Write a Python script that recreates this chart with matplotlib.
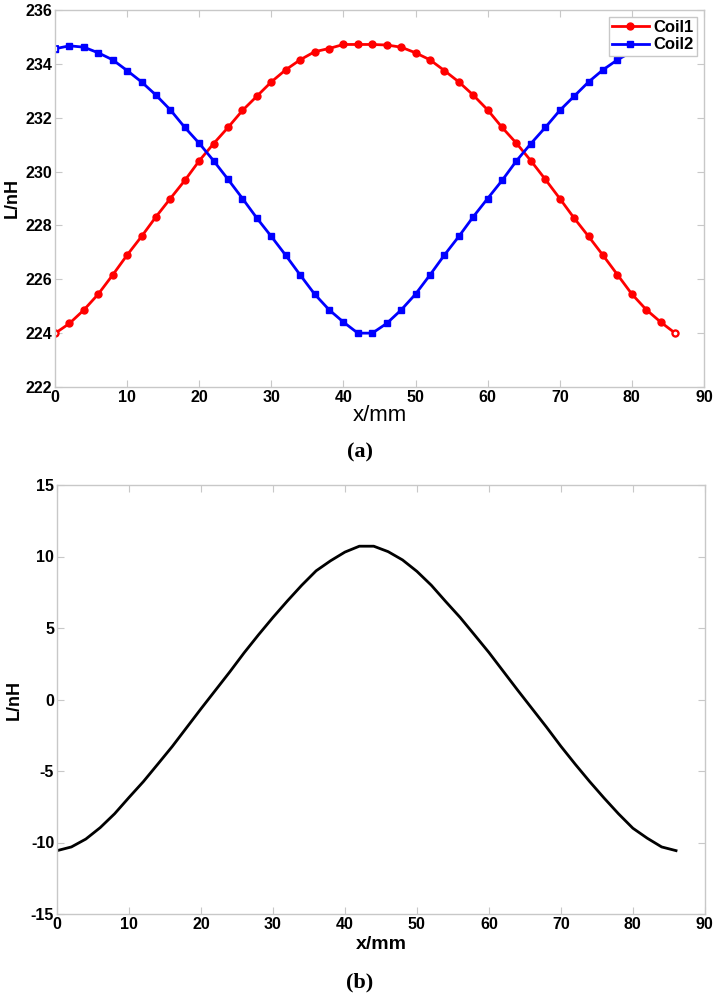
import numpy as np
import matplotlib
matplotlib.use("Agg")
import matplotlib.pyplot as plt

plt.rcParams['axes.unicode_minus'] = False
plt.rcParams['font.family'] = ['Liberation Sans', 'DejaVu Sans']
plt.rcParams['font.weight'] = 'bold'

# ── Data ──────────────────────────────────────────────────────
x_mm = np.arange(0, 88, 2)

coil1 = [223.99, 224.36, 224.86, 225.45, 226.16, 226.90, 227.59, 228.32, 229.00, 229.67,
         230.40, 231.04, 231.64, 232.27, 232.80, 233.33, 233.78, 234.15, 234.45, 234.57,
         234.72, 234.72, 234.72, 234.70, 234.62, 234.41, 234.15, 233.75, 233.33, 232.84,
         232.29, 231.64, 231.05, 230.40, 229.71, 229.00, 228.27, 227.59, 226.89, 226.17,
         225.45, 224.87, 224.41, 224.00]

coil2 = [234.56, 234.67, 234.62, 234.41, 234.15, 233.75, 233.33, 232.84, 232.29, 231.64,
         231.05, 230.40, 229.71, 229.00, 228.27, 227.59, 226.89, 226.16, 225.45, 224.87,
         224.41, 224.00, 224.00, 224.36, 224.86, 225.45, 226.16, 226.90, 227.59, 228.32,
         229.00, 229.67, 230.40, 231.04, 231.64, 232.27, 232.80, 233.33, 233.78, 234.15,
         234.45, 234.57, 234.70, 234.57]

diff = [-10.57, -10.31, -9.76, -8.96, -7.99, -6.85, -5.74, -4.52, -3.29, -1.97,
        -0.65, 0.64, 1.93, 3.27, 4.53, 5.74, 6.89, 7.99, 9.00, 9.70,
        10.31, 10.72, 10.72, 10.34, 9.76, 8.96, 7.99, 6.85, 5.74, 4.52,
        3.29, 1.97, 0.65, -0.64, -1.93, -3.27, -4.53, -5.74, -6.89, -7.99,
        -9.00, -9.70, -10.31, -10.57]

SERIF = ['Liberation Serif', 'DejaVu Serif']
BOX = '#c8c8c8'


def style_axes(ax):
    for s in ax.spines.values():
        s.set_color(BOX)
        s.set_linewidth(1.0)
    ax.tick_params(direction='in', length=5, color=BOX, top=True, right=True,
                   labelsize=11.5, pad=2)


fig = plt.figure(figsize=(7.19, 10.0), dpi=100)

# ── (a) Coil1 / Coil2 ─────────────────────────────────────────
ax1 = fig.add_axes([0.0765, 0.613, 0.9026, 0.377])
ax1.plot(x_mm, coil1, '-o', color='red', lw=2, ms=5, label='Coil1')
ax1.plot(x_mm, coil2, '-s', color='blue', lw=2, ms=5, label='Coil2')
# hollow end markers as in the original
ax1.plot([x_mm[0], x_mm[-1]], [coil1[0], coil1[-1]], 'o', ls='none',
         mfc='white', mec='red', ms=4, mew=1.3)
ax1.plot([x_mm[0]], [coil2[0]], 's', ls='none', mfc='white', mec='blue', ms=4, mew=1.3)
ax1.set_xlim(0, 90)
ax1.set_ylim(222, 236)
ax1.set_xticks(np.arange(0, 100, 10))
ax1.set_yticks(np.arange(222, 238, 2))
style_axes(ax1)
ax1.set_xlabel('x/mm', fontsize=16, fontweight='normal', labelpad=0)
ax1.set_ylabel('L/nH', fontsize=13, fontweight='bold', labelpad=3)
leg = ax1.legend(loc='upper right', prop={'weight': 'bold', 'size': 12},
                 fancybox=False, edgecolor=BOX, framealpha=1, borderpad=0.2,
                 handlelength=2.2, handletextpad=0.3, labelspacing=0.15,
                 borderaxespad=0.4)
leg.get_frame().set_linewidth(1.0)
fig.text(0.5, 0.548, '(a)', ha='center', va='center', fontsize=16,
         fontweight='bold', family=SERIF)

# ── (b) difference ────────────────────────────────────────────
ax2 = fig.add_axes([0.0793, 0.086, 0.901, 0.429])
ax2.plot(x_mm, diff, '-', color='black', lw=2)
ax2.set_xlim(0, 90)
ax2.set_ylim(-15, 15)
ax2.set_xticks(np.arange(0, 100, 10))
ax2.set_yticks(np.arange(-15, 20, 5))
style_axes(ax2)
ax2.set_xlabel('x/mm', fontsize=14, fontweight='bold', labelpad=3)
ax2.set_ylabel('L/nH', fontsize=13, fontweight='bold', labelpad=6)
fig.text(0.5, 0.018, '(b)', ha='center', va='center', fontsize=16,
         fontweight='bold', family=SERIF)

fig.savefig('out.png', dpi=100)
plt.close(fig)
